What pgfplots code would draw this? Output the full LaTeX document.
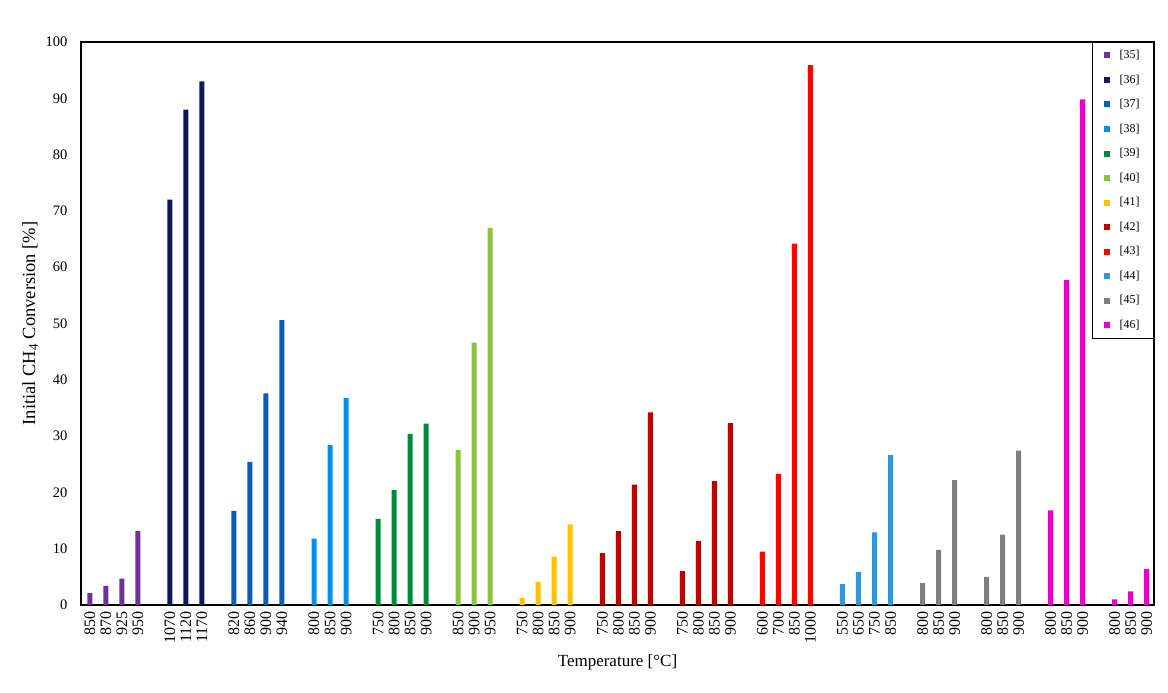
\documentclass[border=0pt]{standalone}
\usepackage{pgfplots}
\pgfplotsset{compat=1.18}
\usepackage{fontspec}
\setmainfont{Liberation Serif}
\definecolor{c35}{RGB}{112,48,160}
\definecolor{c36}{RGB}{12,26,94}
\definecolor{c37}{RGB}{10,92,186}
\definecolor{c38}{RGB}{0,146,228}
\definecolor{c39}{RGB}{0,138,62}
\definecolor{c40}{RGB}{140,195,62}
\definecolor{c41}{RGB}{255,192,0}
\definecolor{c42}{RGB}{192,0,0}
\definecolor{c43}{RGB}{255,0,0}
\definecolor{c44}{RGB}{52,150,218}
\definecolor{c45}{RGB}{127,127,127}
\definecolor{c46}{RGB}{235,0,200}
\begin{document}
\begin{tikzpicture}
\useasboundingbox (0,0) rectangle (1168pt,693pt);
\begin{axis}[
  at={(81pt,88pt)}, anchor=south west,
  scale only axis, width=1073pt, height=563pt,
  xmin=-0.55, xmax=66.45, ymin=0, ymax=100,
  ytick={0,10,...,100},
  xtick={0,1,2,3,5,6,7,9,10,11,12,14,15,16,18,19,20,21,23,24,25,27,28,29,30,32,33,34,35,37,38,39,40,42,43,44,45,47,48,49,50,52,53,54,56,57,58,60,61,62,64,65,66},
  xticklabels={850,870,925,950,1070,1120,1170,820,860,900,940,800,850,900,750,800,850,900,850,900,950,750,800,850,900,750,800,850,900,750,800,850,900,600,700,850,1000,550,650,750,850,800,850,900,800,850,900,800,850,900,800,850,900},
  major tick length=0pt,
  axis line style={black, line width=1.2pt},
  /pgf/number format/assume math mode=true,
  yticklabel style={font=\fontsize{14.5}{14.5}\selectfont},
  yticklabel shift=10pt,
  xticklabel style={font=\fontsize{16}{16}\selectfont, rotate=90, anchor=east},
  xticklabel shift=3pt,
  every axis x label/.style={at={(axis description cs:0.5,0)}, yshift=-57pt, anchor=center, font=\fontsize{17}{17}\selectfont},
  every axis y label/.style={at={(axis description cs:0,0.5)}, xshift=-51pt, rotate=90, anchor=center, font=\fontsize{18.5}{18.5}\selectfont},
  xlabel={Temperature [°C]},
  ylabel={Initial CH\textsubscript{4} Conversion [\%]},
  legend style={at={(1,1)}, anchor=north east, draw=black, line width=0.8pt, font=\fontsize{12}{12}\selectfont, row sep=10.7pt, column sep=8pt, inner xsep=12pt, inner ysep=6pt},
  legend cell align=left,
  every axis plot/.append style={ybar, bar width=5pt, bar shift=0pt, draw=none, forget plot},
]
\addplot[fill=c35] coordinates {(0,2.1)(1,3.4)(2,4.7)(3,13.1)};
\addplot[fill=c36] coordinates {(5,72)(6,88)(7,93)};
\addplot[fill=c37] coordinates {(9,16.7)(10,25.4)(11,37.6)(12,50.6)};
\addplot[fill=c38] coordinates {(14,11.8)(15,28.4)(16,36.8)};
\addplot[fill=c39] coordinates {(18,15.3)(19,20.4)(20,30.4)(21,32.2)};
\addplot[fill=c40] coordinates {(23,27.5)(24,46.6)(25,67)};
\addplot[fill=c41] coordinates {(27,1.2)(28,4.1)(29,8.6)(30,14.3)};
\addplot[fill=c42] coordinates {(32,9.2)(33,13.1)(34,21.4)(35,34.2)};
\addplot[fill=c42] coordinates {(37,6.0)(38,11.4)(39,22.0)(40,32.3)};
\addplot[fill=c43] coordinates {(42,9.5)(43,23.3)(44,64.2)(45,95.9)};
\addplot[fill=c44] coordinates {(47,3.7)(48,5.9)(49,12.9)(50,26.6)};
\addplot[fill=c45] coordinates {(52,3.9)(53,9.8)(54,22.2)};
\addplot[fill=c45] coordinates {(56,5.0)(57,12.5)(58,27.4)};
\addplot[fill=c46] coordinates {(60,16.8)(61,57.7)(62,89.8)};
\addplot[fill=c46] coordinates {(64,1.0)(65,2.4)(66,6.4)};
\addlegendimage{only marks, mark=square*, mark size=2.5pt, color=c35}\addlegendentry{[35]}
\addlegendimage{only marks, mark=square*, mark size=2.5pt, color=c36}\addlegendentry{[36]}
\addlegendimage{only marks, mark=square*, mark size=2.5pt, color=c37}\addlegendentry{[37]}
\addlegendimage{only marks, mark=square*, mark size=2.5pt, color=c38}\addlegendentry{[38]}
\addlegendimage{only marks, mark=square*, mark size=2.5pt, color=c39}\addlegendentry{[39]}
\addlegendimage{only marks, mark=square*, mark size=2.5pt, color=c40}\addlegendentry{[40]}
\addlegendimage{only marks, mark=square*, mark size=2.5pt, color=c41}\addlegendentry{[41]}
\addlegendimage{only marks, mark=square*, mark size=2.5pt, color=c42}\addlegendentry{[42]}
\addlegendimage{only marks, mark=square*, mark size=2.5pt, color=c43}\addlegendentry{[43]}
\addlegendimage{only marks, mark=square*, mark size=2.5pt, color=c44}\addlegendentry{[44]}
\addlegendimage{only marks, mark=square*, mark size=2.5pt, color=c45}\addlegendentry{[45]}
\addlegendimage{only marks, mark=square*, mark size=2.5pt, color=c46}\addlegendentry{[46]}
\end{axis}
\end{tikzpicture}
\end{document}
